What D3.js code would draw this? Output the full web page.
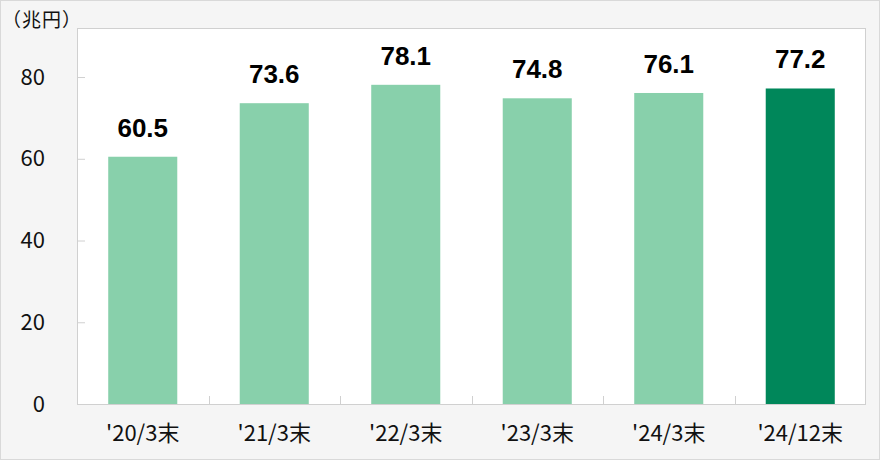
<!DOCTYPE html>
<html><head><meta charset="utf-8">
<script src="https://cdn.jsdelivr.net/npm/d3@7"></script>
<style>html,body{margin:0;padding:0;background:#fff;}svg{display:block;}</style>
</head><body>
<svg id="c" width="880" height="460"></svg>
<script>
const categories = ["'20/3末", "'21/3末", "'22/3末", "'23/3末", "'24/3末", "'24/12末"];
const values = [60.5, 73.6, 78.1, 74.8, 76.1, 77.2];
const yTicks = [0, 20, 40, 60, 80];
const unitLabel = "（兆円）";

const svg = d3.select("#c");
const W = 880, H = 460;
const plot = {l: 77, r: 866, t: 28, b: 404};
svg.append("rect").attr("x", 0.5).attr("y", 0.5).attr("width", W - 1).attr("height", H - 1)
  .attr("fill", "#f5f5f5").attr("stroke", "#d9d9d9");
svg.append("rect").attr("x", plot.l + 0.5).attr("y", plot.t + 0.5)
  .attr("width", plot.r - plot.l - 1).attr("height", plot.b - plot.t)
  .attr("fill", "#fff").attr("stroke", "#d0d0d0");

const x = d3.scaleBand().domain(categories).range([plot.l, plot.r]).paddingInner(0.475).paddingOuter(0.2375);
const xb = d3.scaleBand().domain(categories).range([plot.l, plot.r]);
const y = d3.scaleLinear().domain([0, 92]).range([plot.b, plot.t]);

const jp = "'Noto Sans CJK JP', 'Noto Sans', sans-serif";

// bars
svg.append("g").selectAll("rect").data(values).join("rect")
  .attr("x", (d, i) => x(categories[i]))
  .attr("width", x.bandwidth())
  .attr("y", d => y(d))
  .attr("height", d => y(0) - y(d))
  .attr("fill", (d, i) => i === values.length - 1 ? "#00875a" : "#88d0ab");

// value labels
svg.append("g").selectAll("text").data(values).join("text")
  .attr("x", (d, i) => x(categories[i]) + x.bandwidth() / 2)
  .attr("y", d => y(d) - 20)
  .attr("text-anchor", "middle")
  .attr("font-family", "'Liberation Sans', Arial, sans-serif")
  .attr("font-weight", "bold").attr("font-size", 26).attr("fill", "#000")
  .text(d => d.toFixed(1));

// y axis
const yAxis = svg.append("g").attr("transform", `translate(${plot.l},0)`)
  .call(d3.axisLeft(y).tickValues(yTicks).tickSize(-8).tickPadding(32));
yAxis.select(".domain").remove();
yAxis.selectAll(".tick line").attr("stroke", "#d0d0d0");
yAxis.selectAll(".tick text").attr("font-family", jp).attr("font-size", 22).attr("fill", "#111");

// x axis tick marks at category boundaries
const bounds = categories.slice(1).map(c => xb(c));
svg.append("g").selectAll("line").data(bounds).join("line")
  .attr("x1", d => Math.round(d) + 0.5).attr("x2", d => Math.round(d) + 0.5)
  .attr("y1", plot.b).attr("y2", plot.b - 8).attr("stroke", "#d0d0d0");

// x labels
svg.append("g").selectAll("text").data(categories).join("text")
  .attr("x", d => xb(d) + xb.bandwidth() / 2)
  .attr("y", 441)
  .attr("text-anchor", "middle")
  .attr("font-family", jp).attr("font-size", 22).attr("fill", "#111")
  .text(d => d);

// unit label
svg.append("text").attr("x", 2).attr("y", 27)
  .attr("font-family", jp).attr("font-size", 19).attr("letter-spacing", 1).attr("fill", "#111")
  .text(unitLabel);
</script>
</body></html>
